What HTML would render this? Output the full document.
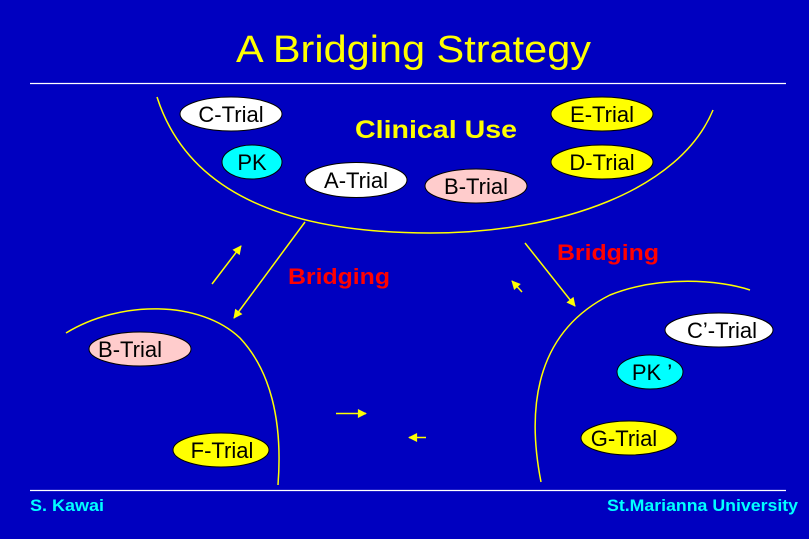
<!DOCTYPE html>
<html><head><meta charset="utf-8"><style>
html,body{margin:0;padding:0;background:#0000c0;}
svg{display:block}
text{font-family:"Liberation Sans",sans-serif;}
</style></head><body>
<svg width="809" height="539" viewBox="0 0 809 539" xmlns="http://www.w3.org/2000/svg">
<defs>
<marker id="ah" viewBox="0 0 10 10" refX="9" refY="5" markerWidth="7" markerHeight="6" orient="auto"><path d="M0,0 L10,5 L0,10 z" fill="#ffff00"/></marker>
</defs>
<rect width="809" height="539" fill="#0000c0"/>
<text x="236" y="62" font-size="38" fill="#ffff00" textLength="355" lengthAdjust="spacingAndGlyphs">A Bridging Strategy</text>
<line x1="30" y1="83.5" x2="786" y2="83.5" stroke="#fff" stroke-width="1.3"/>
<line x1="30" y1="490.5" x2="786" y2="490.5" stroke="#fff" stroke-width="1.3"/>
<text x="30" y="511" font-size="17" font-weight="bold" fill="#00ffff" textLength="74" lengthAdjust="spacingAndGlyphs">S. Kawai</text>
<text x="607" y="511" font-size="17" font-weight="bold" fill="#00ffff" textLength="191" lengthAdjust="spacingAndGlyphs">St.Marianna University</text>

<g fill="none" stroke="#ffff00" stroke-width="1.5">
<path d="M157,97 C190,200 300,233 430,233 C560,233 680,190 713,110"/>
<path d="M66,333 C120,300 200,300 240,338 C270,370 283,420 278,485"/>
<path d="M541,482 C525,400 540,330 610,295 C660,275 720,280 750,290"/>
<line x1="305" y1="222" x2="234" y2="318" marker-end="url(#ah)"/>
<line x1="212" y1="284" x2="241" y2="246" marker-end="url(#ah)"/>
<line x1="525" y1="243" x2="575" y2="306" marker-end="url(#ah)"/>
<line x1="522" y1="292" x2="512" y2="281" marker-end="url(#ah)"/>
<line x1="336" y1="413.5" x2="366" y2="413.5" marker-end="url(#ah)"/>
<line x1="426" y1="437.5" x2="409" y2="437.5" marker-end="url(#ah)"/>
</g>

<g stroke="#000" stroke-width="1">
<ellipse cx="231" cy="114" rx="51" ry="17" fill="#fff"/>
<ellipse cx="252" cy="162" rx="30" ry="17" fill="#00ffff"/>
<ellipse cx="356" cy="180" rx="51" ry="17.5" fill="#fff"/>
<ellipse cx="476" cy="186" rx="51" ry="17" fill="#ffcccc"/>
<ellipse cx="602" cy="114" rx="51" ry="17" fill="#ffff00"/>
<ellipse cx="602" cy="162" rx="51" ry="17" fill="#ffff00"/>
<ellipse cx="719" cy="330" rx="54" ry="17" fill="#fff"/>
<ellipse cx="650" cy="372" rx="33" ry="17" fill="#00ffff"/>
<ellipse cx="629" cy="438" rx="48" ry="17" fill="#ffff00"/>
<ellipse cx="140" cy="349" rx="51" ry="17" fill="#ffcccc"/>
<ellipse cx="221" cy="450" rx="48" ry="17" fill="#ffff00"/>
</g>
<g font-size="22" fill="#000" text-anchor="middle">
<text x="231" y="122">C-Trial</text>
<text x="252" y="170">PK</text>
<text x="356" y="188">A-Trial</text>
<text x="476" y="194">B-Trial</text>
<text x="602" y="122">E-Trial</text>
<text x="602" y="170">D-Trial</text>
<text x="722" y="338">C’-Trial</text>
<text x="652" y="380">PK ’</text>
<text x="624" y="446">G-Trial</text>
<text x="130" y="357">B-Trial</text>
<text x="222" y="458">F-Trial</text>
</g>
<text x="436" y="138" font-size="25" font-weight="bold" fill="#ffff00" text-anchor="middle" textLength="162" lengthAdjust="spacingAndGlyphs">Clinical Use</text>
<text x="288" y="284" font-size="22" font-weight="bold" fill="#ff0000" textLength="102" lengthAdjust="spacingAndGlyphs">Bridging</text>
<text x="557" y="260" font-size="22" font-weight="bold" fill="#ff0000" textLength="102" lengthAdjust="spacingAndGlyphs">Bridging</text>
</svg>
</body></html>
